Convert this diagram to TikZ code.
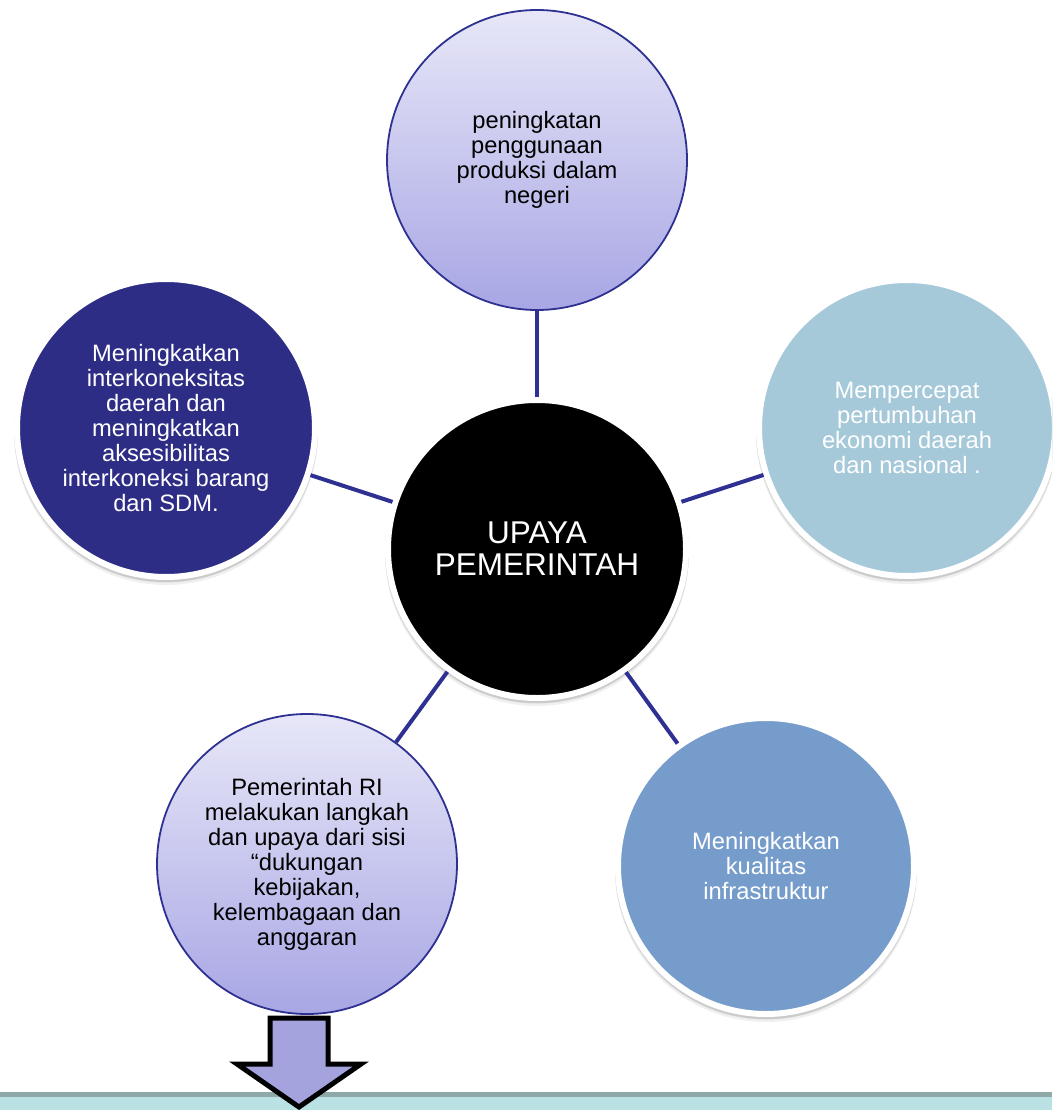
\documentclass[tikz,border=0pt]{standalone}
\usepackage{fontspec}
\setmainfont{Liberation Sans}
\usetikzlibrary{shadows}
\definecolor{navy}{RGB}{46,49,146}
\definecolor{darkblue}{RGB}{46,45,134}
\definecolor{lightblue}{RGB}{166,201,218}
\definecolor{midblue}{RGB}{118,156,203}
\definecolor{lavtop}{RGB}{231,231,248}
\definecolor{lavbot}{RGB}{168,166,228}
\definecolor{arrowfill}{RGB}{165,163,222}
\definecolor{bandline}{RGB}{142,169,168}
\definecolor{bandfill}{RGB}{186,225,227}
\begin{document}
\begin{tikzpicture}[x=1pt,y=-1pt,
  txt/.style={font=\fontsize{23.7}{25}\selectfont, align=center},
  ringed/.style={circle, draw=white, line width=6pt, inner sep=0pt, minimum size=#1, txt,
     drop shadow={shadow xshift=0pt,shadow yshift=-5pt,opacity=0.06,fill=black,draw=black},
     drop shadow={shadow xshift=0pt,shadow yshift=-2.5pt,opacity=0.10,fill=black,draw=black}},
  lav/.style={circle, draw=navy, line width=1.8pt, inner sep=0pt, minimum size=300pt,
     top color=lavtop, bottom color=lavbot, txt},
  link/.style={draw=navy, line width=4pt},
  blockarrow/.style={draw=black, line width=5pt, fill=arrowfill}
]
\useasboundingbox (0,0) rectangle (1052,1110);
\clip (0,0) rectangle (1052,1110);
\fill[white] (0,0) rectangle (1052,1110);
% bottom band
\fill[bandfill] (0,1097) rectangle (1052,1110);
\fill[bandline] (0,1092) rectangle (1052,1097);

% circles
\node[lav] (top) at (537,160) {peningkatan\\penggunaan\\produksi dalam\\negeri};
\node[ringed=298pt, fill=darkblue, text=white] (left) at (166,428)
  {Meningkatkan\\interkoneksitas\\daerah dan\\meningkatkan\\aksesibilitas\\interkoneksi barang\\dan SDM.};
\node[ringed=296pt, fill=lightblue, text=white] (right) at (907,428)
  {Mempercepat\\pertumbuhan\\ekonomi daerah\\dan nasional .};
\node[ringed=298pt, fill=black, text=white, font=\fontsize{31.5}{32}\selectfont] (center) at (537,549)
  {UPAYA\\PEMERINTAH};
\node[lav] (bl) at (307,864)
  {Pemerintah RI\\melakukan langkah\\dan upaya dari sisi\\“dukungan\\kebijakan,\\kelembagaan dan\\anggaran};
\node[ringed=296pt, fill=midblue, text=white] (br) at (766,866)
  {Meningkatkan\\kualitas\\infrastruktur};

% connectors
\draw[link] (top) -- (center);
\draw[link] (left) -- (center);
\draw[link] (right) -- (center);
\draw[link] (bl) -- (center);
\draw[link] (br) -- (center);

% block arrow
\draw[blockarrow] (270,1018) -- (328,1018) -- (328,1064) -- (361,1064) -- (299,1107)
  -- (237,1064) -- (270,1064) -- cycle;
\end{tikzpicture}
\end{document}
